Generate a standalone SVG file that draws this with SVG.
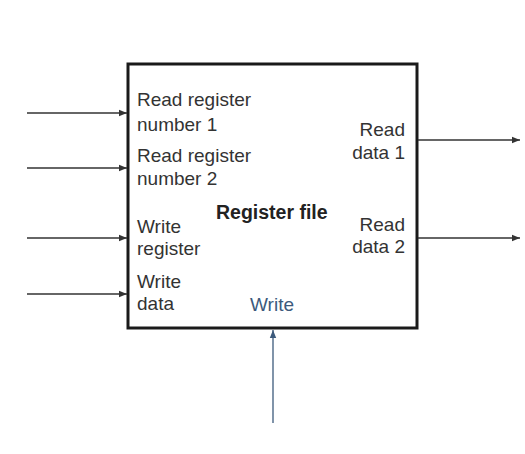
<svg xmlns="http://www.w3.org/2000/svg" width="525" height="454" viewBox="0 0 525 454">
<defs>
<style>
text{font-family:"Liberation Sans",Arial,sans-serif;font-size:19px;fill:#333}
.b{font-weight:bold;fill:#222;font-size:19.5px}
.blue{fill:#3c5a7c}
.r{text-anchor:end}
.w{stroke:#333;stroke-width:1.3;fill:none}
.wb{stroke:#3c5a7c;stroke-width:1.3;fill:none}
</style>
<marker id="ah" viewBox="0 0 10 10" refX="10" refY="5" markerWidth="11" markerHeight="8" markerUnits="userSpaceOnUse" orient="auto"><path d="M0,1 L10,5 L0,9 z" fill="#333"/></marker>
<marker id="ahb" viewBox="0 0 10 10" refX="10" refY="5" markerWidth="11" markerHeight="8" markerUnits="userSpaceOnUse" orient="auto"><path d="M0,1 L10,5 L0,9 z" fill="#3c5a7c"/></marker>
</defs>
<rect width="525" height="454" fill="#fff"/>
<g id="register-file">
<rect x="128" y="64" width="289" height="264" fill="#fff" stroke="#1a1a1a" stroke-width="3"/>
<text class="b" x="216" y="219">Register file</text>
<text x="137" y="106">Read register</text>
<text x="137" y="131">number 1</text>
<text x="137" y="162">Read register</text>
<text x="137" y="185">number 2</text>
<text x="137" y="233">Write</text>
<text x="137" y="255">register</text>
<text x="137" y="288">Write</text>
<text x="137" y="310">data</text>
<text class="r" x="405" y="136">Read</text>
<text class="r" x="405" y="159">data 1</text>
<text class="r" x="405" y="231">Read</text>
<text class="r" x="405" y="253">data 2</text>
<text class="blue" x="250" y="311">Write</text>
</g>
<g id="connectors">
<line class="w" x1="27" y1="113" x2="127" y2="113" marker-end="url(#ah)"/>
<line class="w" x1="27" y1="168" x2="127" y2="168" marker-end="url(#ah)"/>
<line class="w" x1="27" y1="238" x2="127" y2="238" marker-end="url(#ah)"/>
<line class="w" x1="27" y1="294" x2="127" y2="294" marker-end="url(#ah)"/>
<line class="w" x1="418" y1="140" x2="520" y2="140" marker-end="url(#ah)"/>
<line class="w" x1="418" y1="238" x2="520" y2="238" marker-end="url(#ah)"/>
<line class="wb" x1="273" y1="423" x2="273" y2="330" marker-end="url(#ahb)"/>
</g>
</svg>
